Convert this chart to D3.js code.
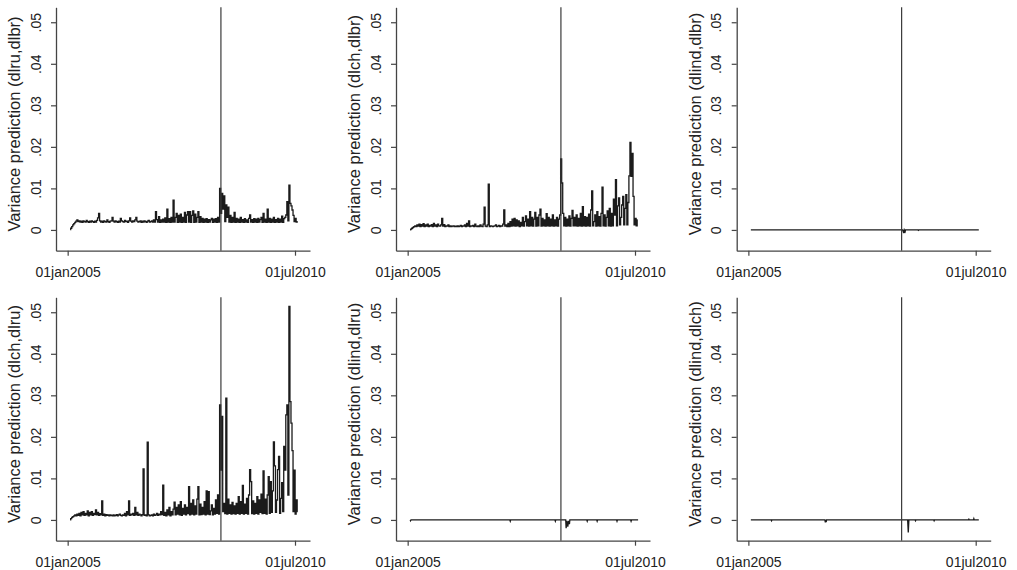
<!DOCTYPE html>
<html>
<head>
<meta charset="utf-8">
<script src="https://cdn.jsdelivr.net/npm/d3@7"></script>
<style>
  html, body { margin: 0; padding: 0; background: #fff; }
  svg { display: block; font-family: "Liberation Sans", Arial, Helvetica, sans-serif; }
</style>
</head>
<body>
<svg id="chart" width="1017" height="570"></svg>
<script>
// ---------------- DATA (values in units of 1e-4) ----------------
// dense series: one reading per ~9 days, starting at decimal year START
const START = 2005.06;
const STEP = 0.025;

const dlru_dlbr = [
  1,4,8,12,15,18,21,24,20,22,
  19,21,18,22,20,19,23,20,18,21,
  19,22,20,18,21,19,23,29,40,22,
  19,21,18,22,20,19,24,20,18,21,
  22,30,21,19,22,20,18,21,19,28,
  22,20,19,23,20,21,18,22,29,21,
  19,22,20,24,30,21,19,20,22,18,
  21,19,22,20,18,21,23,19,20,22,
  19,24,19,44,25,19,32,18,24,19,
  26,19,29,18,50,19,27,18,30,19,
  72,19,30,40,18,35,19,38,18,30,
  19,42,18,36,44,19,44,18,35,46,
  18,38,19,30,44,18,32,19,28,18,
  26,19,27,18,25,19,24,28,18,26,
  19,27,18,30,19,100,40,88,50,82,
  20,60,30,55,19,35,18,30,19,42,
  18,28,19,26,18,30,19,25,18,27,
  19,24,18,28,36,19,25,18,27,19,
  26,18,28,19,25,30,18,40,19,26,
  18,50,19,28,18,26,19,30,18,25,
  19,28,18,26,19,33,18,27,30,36,
  68,22,108,64,58,48,35,20,28,19,
  20
];

const dlch_dlbr = [
  0,2,4,6,8,10,8,12,9,14,
  8,13,9,15,8,12,9,14,8,11,
  9,13,8,16,9,12,8,14,10,9,
  12,28,9,13,8,10,9,12,8,10,
  8,9,10,8,9,8,10,8,9,11,
  8,10,9,12,8,16,9,22,8,10,
  9,11,8,14,9,8,10,8,12,9,
  8,14,55,9,8,12,110,8,10,9,
  8,9,10,12,8,9,11,8,10,9,
  14,48,9,12,8,16,8,20,9,26,
  10,28,9,24,10,22,8,18,10,30,
  9,20,34,10,26,9,44,10,30,9,
  26,42,9,30,10,36,50,9,28,10,
  24,9,39,10,30,9,26,10,36,9,
  24,10,30,9,26,36,171,113,40,10,
  30,9,26,10,34,9,28,47,10,30,
  10,36,9,28,10,40,9,56,10,32,
  9,30,10,38,9,48,94,10,20,36,
  9,44,10,32,9,40,103,10,36,9,
  30,46,10,52,9,40,10,74,36,121,
  10,58,77,12,30,60,81,12,52,85,
  12,66,130,211,129,184,81,12,28,10,
  24
];

const dlch_dlru = [
  0,3,6,8,10,12,10,14,11,16,
  10,18,12,20,11,16,12,22,10,18,
  12,20,11,16,13,24,12,18,11,15,
  12,46,11,14,10,13,11,12,10,12,
  11,10,12,10,11,13,10,12,14,11,
  10,12,11,16,10,20,12,46,11,14,
  12,16,11,30,12,18,11,14,12,10,
  13,123,11,12,10,187,12,10,11,12,
  10,14,11,12,16,11,14,12,20,13,
  84,11,18,10,24,12,30,10,20,12,
  26,43,12,30,14,36,12,44,11,28,
  14,36,12,30,15,80,12,40,14,48,
  12,34,14,50,80,12,38,13,30,14,
  44,12,70,14,68,13,22,36,12,28,
  14,48,16,60,14,277,120,249,20,40,
  15,293,14,50,16,36,14,42,15,34,
  14,40,16,56,14,44,16,83,14,38,
  16,52,14,60,121,92,15,46,14,40,
  16,56,14,48,18,62,15,118,16,50,
  14,60,104,16,92,18,70,188,130,18,
  48,121,153,16,52,90,20,177,120,253,
  277,60,514,285,233,167,20,120,14,48,
  20
];

// sparse series: [decimal year, value]
const dlind_dlbr = [
  [2005.06,0],[2008.73,0],[2008.74,-3],[2008.75,0],[2008.76,-8],[2008.77,0],
  [2008.79,-4],[2008.80,0],[2009.10,0],[2009.11,-1],[2009.12,0],[2010.57,0]
];
const dlind_dlru = [
  [2005.06,0],[2005.07,-2],[2005.08,0],[2007.47,0],[2007.48,-3],[2007.49,0],
  [2008.56,0],[2008.57,-3],[2008.58,0],[2008.82,0],[2008.83,-20],[2008.85,-2],
  [2008.87,-16],[2008.89,-2],[2008.91,-10],[2008.92,0],[2009.33,0],[2009.34,-3],
  [2009.35,0],[2009.57,0],[2009.58,-3],[2009.59,0],[2010.05,0],[2010.06,-3],
  [2010.07,0],[2010.39,0],[2010.40,-3],[2010.41,0],[2010.57,0]
];
const dlind_dlch = [
  [2005.06,0],[2005.55,0],[2005.56,-2],[2005.57,0],[2006.85,0],[2006.86,-6],
  [2006.87,0],[2006.88,-5],[2006.89,0],[2008.85,0],[2008.865,-30],[2008.88,0],
  [2009.03,0],[2009.04,-2],[2009.05,0],[2009.48,0],[2009.49,-2],[2009.50,0],
  [2010.32,0],[2010.33,2],[2010.34,0],[2010.44,0],[2010.45,3],[2010.46,0],[2010.57,0]
];

const titles = [
  "Variance prediction (dlru,dlbr)", "Variance prediction (dlch,dlbr)", "Variance prediction (dlind,dlbr)",
  "Variance prediction (dlch,dlru)", "Variance prediction (dlind,dlru)", "Variance prediction (dlind,dlch)"
];
const yTicks = [0, 0.01, 0.02, 0.03, 0.04, 0.05];
const xTickDates = ["2005-01-01", "2010-07-01"];
const xTickLabels = ["01jan2005", "01jul2010"];
const eventDate = "2008-09-15";

// ---------------- DRAWING ----------------
const yearToDate = yr => new Date(Date.UTC(2005, 0, 1) + (yr - 2005) * 365.25 * 864e5);
const dense = arr => arr.map((v, i) => [yearToDate(START + i * STEP), v * 1e-4]);
const sparse = arr => arr.map(d => [yearToDate(d[0]), d[1] * 1e-4]);

const panels = [
  { data: dense(dlru_dlbr), col: 0, row: 0, step: true },
  { data: dense(dlch_dlbr), col: 1, row: 0, step: true },
  { data: sparse(dlind_dlbr), col: 2, row: 0, step: false },
  { data: dense(dlch_dlru), col: 0, row: 1, step: true },
  { data: sparse(dlind_dlru), col: 1, row: 1, step: false },
  { data: sparse(dlind_dlch), col: 2, row: 1, step: false }
];

const svg = d3.select("#chart");
svg.append("rect").attr("width", 1017).attr("height", 570).attr("fill", "#fff");

const colOff = [0, 340, 680.7];
const rowOff = [0, 290];
const axisColor = "#444";
const textColor = "#222";

const tickDates = xTickDates.map(s => new Date(s + "T00:00:00Z"));
const yFmt = d => d === 0 ? "0" : d3.format(".2f")(d).replace(/^0/, "");

panels.forEach((p, k) => {
  const ox = colOff[p.col], oy = rowOff[p.row];
  const g = svg.append("g").attr("transform", `translate(${ox},${oy})`);

  const base = d3.scaleUtc().domain(tickDates).range([67.67, 295]);
  const x = d3.scaleUtc().domain([base.invert(56), base.invert(310)]).range([56, 310]);
  const y = d3.scaleLinear().domain([-0.005, 0.0536]).range([250.7, 7.3]);

  // data line
  const line = d3.line().x(d => x(d[0])).y(d => y(d[1]))
    .curve(p.step ? d3.curveStep : d3.curveLinear);
  g.append("path").datum(p.data)
    .attr("d", line)
    .attr("fill", "none")
    .attr("stroke", "#1b1b1b")
    .attr("stroke-width", p.step ? 1.3 : 1.3)
    .attr("stroke-linejoin", "miter");

  // event line
  const ex = x(new Date(eventDate + "T00:00:00Z"));
  g.append("line")
    .attr("x1", ex).attr("x2", ex)
    .attr("y1", y.range()[1]).attr("y2", y.range()[0])
    .attr("stroke", "#3a3a3a").attr("stroke-width", 1.2);

  // y axis
  const ya = g.append("g").attr("transform", "translate(56,0)")
    .call(d3.axisLeft(y).tickValues(yTicks).tickFormat(yFmt).tickSize(5).tickSizeOuter(0));
  ya.select(".domain").attr("stroke", axisColor).attr("stroke-width", 1.3);
  ya.selectAll(".tick line").attr("stroke", axisColor).attr("stroke-width", 1.2);
  ya.selectAll(".tick text")
    .attr("x", null).attr("dy", null)
    .attr("text-anchor", "middle")
    .attr("transform", "translate(-15.5,0) rotate(-90)")
    .attr("fill", textColor)
    .style("font-size", "14px")
    .style("font-family", "'Liberation Sans', Arial, sans-serif");

  // x axis
  const xa = g.append("g").attr("transform", "translate(0,250.7)")
    .call(d3.axisBottom(x).tickValues(tickDates).tickFormat((d, i) => xTickLabels[i]).tickSize(5).tickSizeOuter(0));
  xa.select(".domain").attr("stroke", axisColor).attr("stroke-width", 1.3);
  xa.selectAll(".tick line").attr("stroke", axisColor).attr("stroke-width", 1.2);
  xa.selectAll(".tick text")
    .attr("y", 26.6).attr("dy", null)
    .attr("fill", textColor)
    .style("font-size", "14px")
    .style("font-family", "'Liberation Sans', Arial, sans-serif");

  // y title
  g.append("text")
    .attr("transform", "translate(20,124) rotate(-90)")
    .attr("text-anchor", "middle")
    .attr("fill", textColor)
    .style("font-size", "16.5px")
    .text(titles[k]);
});
</script>
</body>
</html>
